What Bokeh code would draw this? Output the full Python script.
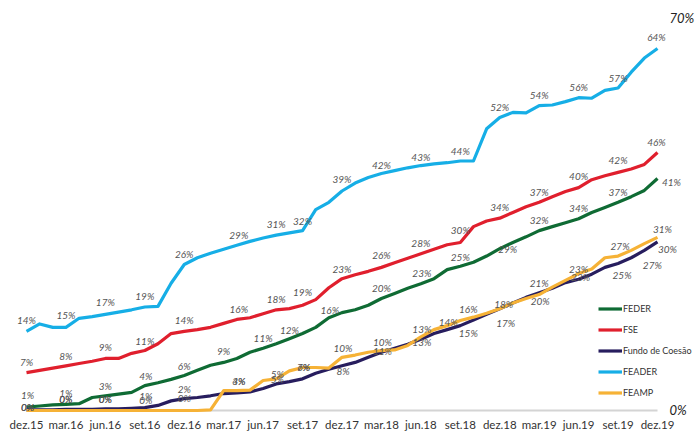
from bokeh.plotting import figure
from bokeh.models import ColumnDataSource, Legend, LegendItem
from bokeh.core.properties import value
from bokeh.embed import file_html
from bokeh.resources import INLINE

# ---------------- data ----------------
tick_labels = ["dez.15", "mar.16", "jun.16", "set.16", "dez.16", "mar.17", "jun.17", "set.17",
               "dez.17", "mar.18", "jun.18", "set.18", "dez.18", "mar.19", "jun.19", "set.19", "dez.19"]
months = list(range(49))  # monthly, dez.15 .. dez.19

feader = [14, 15.3, 14.7, 14.7, 16.3, 16.6, 17, 17.4, 17.8, 18.3, 18.4, 22.5, 25.8, 27, 27.8, 28.5,
          29.2, 29.9, 30.5, 31, 31.4, 31.8, 35.5, 36.8, 38.8, 40.2, 41.2, 41.9, 42.4, 42.9, 43.3, 43.6,
          43.8, 44.1, 44.1, 49.8, 51.8, 52.7, 52.6, 53.9, 54, 54.6, 55.3, 55.2, 56.6, 57, 59.8, 62.3, 64]
fse = [6.7, 7.1, 7.5, 7.9, 8.3, 8.7, 9.2, 9.2, 10.1, 10.6, 11.8, 13.6, 14, 14.3, 14.7, 15.4,
       16.1, 16.4, 17.1, 17.8, 18, 18.6, 19.6, 21.7, 23.3, 24, 24.6, 25.3, 26.1, 26.9, 27.7, 28.5,
       29.3, 29.7, 32.5, 33.5, 34, 35, 36, 36.8, 37.8, 38.7, 39.4, 40.8, 41.5, 42.1, 42.7, 43.5, 45.6]
feder = [0.6, 0.8, 1, 1.1, 1.2, 2.3, 2.6, 2.9, 3.2, 4.4, 4.9, 5.5, 6.2, 7.1, 8, 8.5,
         9.2, 10.3, 11, 11.8, 12.7, 13.6, 14.7, 16.4, 17.3, 17.8, 18.6, 19.8, 20.7, 21.6, 22.4, 23.3,
         24.9, 25.5, 26.2, 27.3, 28.6, 29.7, 30.7, 31.8, 32.5, 33.2, 33.9, 35, 35.9, 36.8, 37.8, 38.9, 41]
coesao = [0.1, 0.1, 0.1, 0.2, 0.2, 0.2, 0.3, 0.3, 0.4, 0.5, 0.9, 1.7, 2.1, 2.3, 2.6, 3,
          3.1, 3.3, 3.9, 4.7, 5.1, 5.6, 6.6, 7.3, 7.9, 8.5, 9.4, 10.3, 11, 11.7, 12.6, 13.6,
          14.3, 15, 16, 17, 18, 19, 20, 20.8, 21.6, 22.6, 23.2, 24.1, 25.3, 26, 27, 28.3, 29.8]
feamp = [0, 0, 0, 0, 0, 0, 0, 0, 0, 0, 0, 0, 0, 0, 0.1, 3.5,
         3.5, 3.6, 5.3, 5.6, 7, 7.6, 7.6, 7.5, 9.4, 9.8, 10.3, 10.6, 10.7, 11.5, 13, 14.3,
         15, 15.9, 16.5, 17.2, 18, 19, 19.8, 20.5, 21.8, 23, 24.2, 25, 27, 27.3, 28.3, 29.5, 30.6]

# data labels: month index and displayed value
feader_lbl_idx = [0, 3, 6, 9, 12, 16, 19, 21, 24, 27, 30, 33, 36, 39, 42, 45, 48]
feader_lbl_txt = [14, 15, 17, 19, 26, 29, 31, 32, 39, 42, 43, 44, 52, 54, 56, 57, 64]
fse_lbl_idx = [0, 3, 6, 9, 12, 16, 19, 21, 24, 27, 30, 33, 36, 39, 42, 45, 48]
fse_lbl_txt = [7, 8, 9, 11, 14, 16, 18, 19, 23, 26, 28, 30, 34, 37, 40, 42, 46]
feder_lbl_idx = [0, 3, 6, 9, 12, 15, 18, 20, 23, 27, 30, 33, 36, 39, 42, 45, 48]
feder_lbl_txt = [1, 1, 3, 4, 6, 9, 11, 12, 16, 20, 23, 25, 29, 32, 34, 37, 41]
coesao_lbl_idx = [0, 3, 6, 9, 12, 16, 19, 21, 24, 27, 30, 33, 36, 39, 42, 45, 47, 48]
coesao_lbl_txt = [0, 0, 0, 1, 2, 3, 5, 6, 8, 11, 13, 15, 17, 20, 23, 25, 27, 30]
feamp_lbl_idx = [0, 3, 6, 9, 12, 16, 19, 21, 24, 27, 30, 32, 33, 36, 39, 42, 45, 48]
feamp_lbl_txt = [0, 0, 0, 0, 0, 4, 5, 7, 10, 10, 13, 14, 16, 18, 21, 23, 27, 31]

# label pixel offsets (layout only)
feader_off = [(0, -11), (0, -12), (0, -12), (0, -11), (0, -11), (2, -10), (0, -11), (0, -10), (0, -12),
              (0, -8), (0, -9), (0, -10), (0, -10), (0, -11), (0, -11), (0, -10), (-1, -11)]
fse_off = [(0, -11), (0, -10), (0, -11), (0, -10), (0, -11), (2, -10), (0, -11), (0, -13), (0, -10),
           (0, -12), (0, -11), (0, -12), (0, -11), (0, -10), (0, -12), (0, -12), (-1, -11)]
feder_off = [(1, -12), (0, -11), (0, -10), (1, -10), (0, -9), (0, -11), (0, -10), (0, -9), (1, -8),
             (0, -10), (1, -11), (0, -9), (8, 0), (0, -11), (0, -11), (0, -10), (14, 3)]
coesao_off = [(1, -3), (0, -10), (0, -10), (1, -12), (0, -10), (2, -12), (1, -5), (1, -12), (1, 5),
              (1, -1), (1, 3), (8, 7), (6, 14), (1, 8), (2, -2), (4, 12), (8, 15), (10, 7)]
feamp_off = [(1, -3), (0, -11), (0, -11), (1, -10), (0, -12), (2, -10), (1, -5), (1, -1), (1, -9),
             (1, -9), (1, -8), (1, -4), (8, -12), (4, -5), (0, -12), (0, -5), (2, -10), (5, -8)]

names = ["FEDER", "FSE", "Fundo de Coesão", "FEADER", "FEAMP"]
colors = ["#0f6b34", "#e01f2d", "#271d5e", "#16aee6", "#f6b236"]

# ---------------- figure ----------------
W, H = 695, 432
p = figure(width=W, height=H, output_backend="svg", toolbar_location=None,
           x_range=(-1.978, 50.89), y_range=(-3.889, 72.475),
           min_border_left=0, min_border_right=0, min_border_top=0, min_border_bottom=0)
p.outline_line_color = None
p.background_fill_color = "white"
p.border_fill_color = "white"
p.xgrid.visible = False
p.ygrid.visible = False
p.xaxis.visible = False
p.yaxis.visible = False

# baseline
p.line([months[0], months[-1]], [0, 0], line_color="#d4d4d4", line_width=2)

# month tick labels under the baseline
p.text(x=months[::3], y=[0] * len(tick_labels), text=tick_labels, y_offset=14,
       text_font=value("Lato"), text_font_size="11.5px", text_color="#333333",
       text_align="center", text_baseline="middle")

series = [feder, fse, coesao, feader, feamp]
draw_order = [3, 1, 0, 2, 4]
renderers = {}
for k in draw_order:
    renderers[k] = p.line(months, series[k], line_color=colors[k], line_width=3.2, line_join="round")

# data labels
lbl_sets = [(feader, feader_lbl_idx, feader_lbl_txt, feader_off),
            (fse, fse_lbl_idx, fse_lbl_txt, fse_off),
            (feder, feder_lbl_idx, feder_lbl_txt, feder_off),
            (coesao, coesao_lbl_idx, coesao_lbl_txt, coesao_off),
            (feamp, feamp_lbl_idx, feamp_lbl_txt, feamp_off)]
for vals, idx, txt, off in lbl_sets:
    src = ColumnDataSource(dict(
        x=idx, y=[vals[i] for i in idx], t=[f"{v}%" for v in txt],
        dx=[o[0] for o in off], dy=[o[1] for o in off]))
    p.text(x="x", y="y", text="t", x_offset="dx", y_offset="dy", source=src,
           text_font=value("Lato"), text_font_style="italic", text_font_size="10px",
           text_color="#555555", text_align="center", text_baseline="middle")

# scale end labels
p.text(x=[months[-1], months[-1]], y=[70, 0], text=["70%", "0%"], x_offset=12, y_offset=[3, 0],
       text_font=value("Lato"), text_font_style="italic", text_font_size="13px",
       text_color="#222222", text_align="left", text_baseline="middle")

legend = Legend(items=[LegendItem(label=names[k], renderers=[renderers[k]]) for k in range(5)],
                location=(598, 29), orientation="vertical",
                glyph_width=24, glyph_height=21, label_height=21, spacing=0,
                label_standoff=1, padding=0, margin=0,
                label_text_font="Lato", label_text_font_size="9px", label_text_color="#333333",
                border_line_color=None, background_fill_alpha=0)
p.add_layout(legend)

open("out.html", "w").write(file_html(p, INLINE))
